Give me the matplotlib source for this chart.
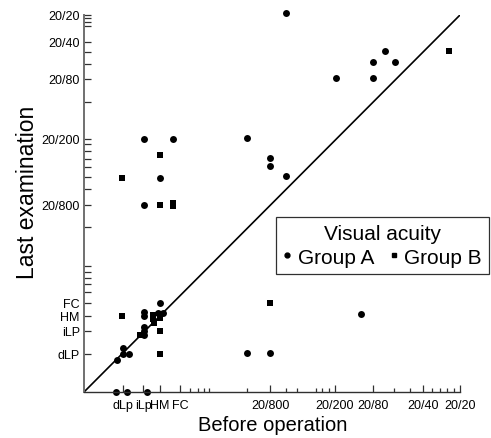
import matplotlib
matplotlib.use('Agg')
import matplotlib.pyplot as plt
from matplotlib.lines import Line2D

plt.rcParams['font.family'] = ['Liberation Sans', 'DejaVu Sans']

# Axis scale: tick positions (0-100 position units along each axis) and labels
x_major_pos = [10.37, 15.69, 20.21, 25.53, 49.47, 66.76, 76.86, 90.16, 100.0]
x_major_lab = ['dLp', 'iLp', 'HM', 'FC', '20/800', '20/200', '20/80', '20/40', '20/20']
x_minor_pos = [28.19, 30.32, 31.91, 33.24, 43.35, 53.72, 56.65, 61.70, 63.30,
               65.16, 82.45, 86.70, 92.55, 94.68, 96.54, 98.40]

y_major_pos = [10.08, 16.18, 20.16, 23.61, 49.60, 67.11, 83.02, 92.84, 100.0]
y_major_lab = ['dLP', 'iLP', 'HM', 'FC', '20/800', '20/200', '20/80', '20/40', '20/20']
y_minor_pos = [26.53, 28.65, 30.24, 31.83, 33.42, 43.77, 53.85, 57.03, 59.68,
               61.80, 63.93, 65.78, 76.92, 87.00, 90.19, 97.08, 98.14, 99.07]

# Group A (circles): before operation (x) vs last examination (y)
group_a_before = [16.04, 23.59, 43.43, 20.29, 16.04, 53.72, 80.05, 76.94, 82.79,
                  67.02, 76.94, 49.47, 49.47, 53.64, 15.96, 15.96, 20.21, 19.60,
                  21.09, 15.96, 15.96, 15.96, 10.45, 10.45, 11.97, 8.70, 43.43,
                  49.47, 73.67, 8.51, 11.36, 16.84]
group_a_last = [67.03, 67.03, 67.29, 56.84, 49.60, 100.4, 90.53, 87.45, 87.45,
                83.21, 83.21, 61.99, 59.87, 57.21, 21.30, 20.24, 23.61, 20.95,
                20.95, 17.16, 16.26, 15.12, 11.59, 10.08, 10.08, 8.49, 10.27,
                10.27, 20.69, 0.0, 0.0, 0.0]

# Group B (squares)
group_b_before = [20.29, 10.19, 20.29, 23.59, 23.59, 97.00, 10.19, 18.27, 18.27,
                  20.21, 18.62, 20.21, 14.89, 20.21, 49.47]
group_b_last = [62.86, 56.84, 49.60, 50.13, 49.26, 90.53, 20.24, 20.42, 19.36,
                19.55, 18.22, 16.26, 15.12, 10.08, 23.61]

fig = plt.figure(figsize=(4.91, 4.39), dpi=100)
ax = fig.add_axes([0.1711, 0.1048, 0.7658, 0.8588])
ax.set_xlim(0, 100)
ax.set_ylim(0, 100)

ax.plot([0, 100], [0, 100], color='black', lw=1.2, solid_capstyle='butt')
ax.plot(group_a_before, group_a_last, 'o', ms=5, color='black', mew=0, clip_on=False)
ax.plot(group_b_before, group_b_last, 's', ms=4.6, color='black', mew=0, clip_on=False)

for s in ['top', 'right']:
    ax.spines[s].set_visible(False)
ax.spines['left'].set_color('#707070')
ax.spines['left'].set_linewidth(1.4)
ax.spines['bottom'].set_color('#303030')
ax.spines['bottom'].set_linewidth(1.0)

ax.set_xticks(x_major_pos)
ax.set_xticklabels(x_major_lab)
ax.set_xticks(x_minor_pos, minor=True)
ax.set_yticks(y_major_pos)
ax.set_yticklabels(y_major_lab)
ax.set_yticks(y_minor_pos, minor=True)

ax.tick_params(axis='x', which='major', direction='in', length=5, width=0.9,
               color='#303030', labelsize=9, pad=5)
ax.tick_params(axis='x', which='minor', direction='in', length=2.6, width=0.9,
               color='#303030')
ax.tick_params(axis='y', which='both', direction='in', length=5, width=0.9,
               color='#303030', labelsize=9, pad=3)

fig.text(0.556, 0.031, 'Before operation', ha='center', va='center', fontsize=14.5)
fig.text(0.055, 0.562, 'Last examination', ha='center', va='center', fontsize=16.5,
         rotation=90)

handles = [Line2D([], [], marker='o', ls='none', color='black', ms=3.5),
           Line2D([], [], marker='s', ls='none', color='black', ms=3.2)]
leg = fig.legend(handles, ['Group A', 'Group B'], title='Visual acuity', ncol=2,
                 loc='upper left', bbox_to_anchor=(0.562, 0.503),
                 fontsize=15, title_fontsize=15, frameon=True, fancybox=False,
                 edgecolor='#303030', framealpha=1, handlelength=0.4,
                 handletextpad=0.3, columnspacing=0.75, borderpad=0.35,
                 labelspacing=0.2, borderaxespad=0)
leg.get_frame().set_linewidth(0.9)

fig.savefig('out.png', dpi=100)
